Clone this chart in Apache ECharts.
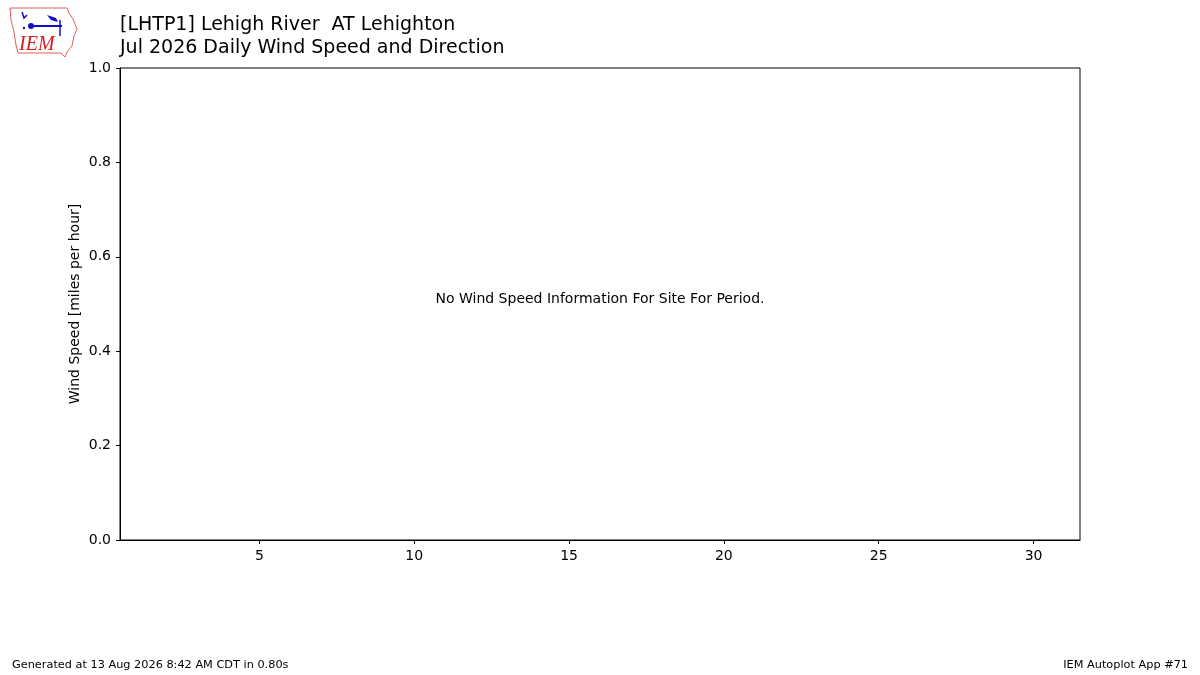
<!DOCTYPE html>
<html>
<head>
<meta charset="utf-8">
<script src="https://cdn.jsdelivr.net/npm/echarts@6/dist/echarts.min.js"></script>
<style>
html, body { margin: 0; padding: 0; background: #fff; }
#chart { width: 1200px; height: 675px; }
</style>
</head>
<body>
<div id="chart"></div>
<script>
var titleLines = ['[LHTP1] Lehigh River  AT Lehighton', 'Jul 2026 Daily Wind Speed and Direction'];
var xTicks = [5, 10, 15, 20, 25, 30];
var yTicks = [0, 0.2, 0.4, 0.6, 0.8, 1.0];
var days = [];
var speeds = [];
var noDataMsg = 'No Wind Speed Information For Site For Period.';
var footerLeft = 'Generated at 13 Aug 2026 8:42 AM CDT in 0.80s';
var footerRight = 'IEM Autoplot App #71';

var font = 'DejaVu Sans';
var chart = echarts.init(document.getElementById('chart'));

var seriesData = [];
for (var i = 0; i < days.length; i++) {
	seriesData.push([days[i], speeds[i]]);
}

var option = {
	animation: false,
	backgroundColor: '#fff',
	textStyle: { fontFamily: font },
	grid: {
		left: 120, top: 68, right: 120, bottom: 135,
		show: true, borderColor: '#000', borderWidth: 1
	},
	xAxis: {
		type: 'value',
		min: 0.5,
		max: 31.5,
		axisLine: { show: true, onZero: false, lineStyle: { color: '#000', width: 1 } },
		axisTick: { show: true, length: 4, customValues: xTicks, lineStyle: { color: '#000' } },
		axisLabel: { customValues: xTicks, color: '#000', fontSize: 14, fontFamily: font, margin: 9 },
		splitLine: { show: false }
	},
	yAxis: {
		type: 'value',
		min: yTicks[0],
		max: yTicks[yTicks.length - 1],
		interval: 0.2,
		name: 'Wind Speed [miles per hour]',
		nameLocation: 'middle',
		nameGap: 38,
		nameMoveOverlap: false,
		nameTextStyle: { color: '#000', fontSize: 14, fontFamily: font },
		axisLine: { show: true, lineStyle: { color: '#000', width: 1 } },
		axisTick: { show: true, length: 4, lineStyle: { color: '#000' } },
		axisLabel: {
			color: '#000', fontSize: 14, fontFamily: font, margin: 9,
			formatter: function (v) { return v.toFixed(1); }
		},
		splitLine: { show: false }
	},
	series: [{
		type: 'scatter',
		data: seriesData
	}],
	graphic: [
		{
			type: 'text', left: 120, top: 16,
			style: { text: titleLines[0], fontSize: 19, fontFamily: font, fill: '#000' }
		},
		{
			type: 'text', left: 120, top: 39,
			style: { text: titleLines[1], fontSize: 19, fontFamily: font, fill: '#000' }
		},
		{
			type: 'text', x: 600, y: 299,
			style: { text: noDataMsg, fontSize: 14, fontFamily: font, fill: '#000', align: 'center', verticalAlign: 'middle' }
		},
		{
			type: 'text', left: 12, top: 660,
			style: { text: footerLeft, fontSize: 11.3, fontFamily: font, fill: '#000' }
		},
		{
			type: 'text', right: 12, top: 660,
			style: { text: footerRight, fontSize: 11.3, fontFamily: font, fill: '#000' }
		},
		// IEM logo, drawn roughly
		{
			type: 'polygon',
			shape: { points: [[10, 8], [67, 8], [69, 13], [73, 19], [77, 29], [74, 36], [72, 46], [67, 52], [65, 57], [61, 53], [18, 53], [16, 45], [14, 32], [11, 20]] },
			style: { fill: '#fff', stroke: '#e06060', lineWidth: 1 }
		},
		{
			type: 'line', shape: { x1: 30, y1: 26, x2: 62, y2: 26 },
			style: { stroke: '#1010c0', lineWidth: 2 }
		},
		{
			type: 'circle', shape: { cx: 31, cy: 26, r: 3 },
			style: { fill: '#1010c0' }
		},
		{
			type: 'polyline', shape: { points: [[22, 12], [24, 18], [27, 15]] },
			style: { stroke: '#1010c0', lineWidth: 1.5, fill: null }
		},
		{
			type: 'polygon', shape: { points: [[47, 15], [56, 18], [58, 22], [51, 20]] },
			style: { fill: '#1010c0' }
		},
		{
			type: 'line', shape: { x1: 60, y1: 20, x2: 60, y2: 36 },
			style: { stroke: '#1010c0', lineWidth: 1.5 }
		},
		{
			type: 'circle', shape: { cx: 24, cy: 28, r: 1.2 },
			style: { fill: '#1010c0' }
		},
		{
			type: 'text', left: 19, top: 35,
			style: { text: 'IEM', fontSize: 20, fontFamily: 'Liberation Serif', fontStyle: 'italic', fill: '#d02020' }
		}
	]
};
chart.setOption(option);
</script>
</body>
</html>
